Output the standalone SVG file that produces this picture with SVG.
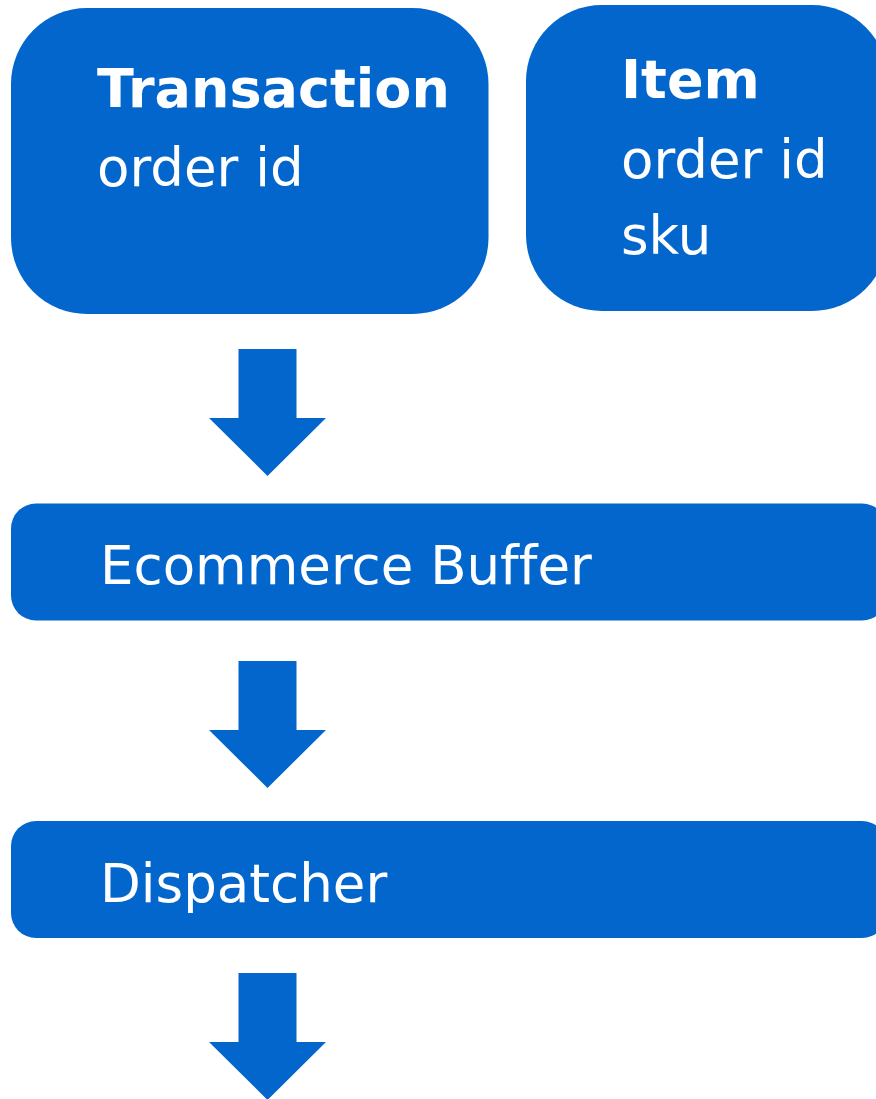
<svg xmlns="http://www.w3.org/2000/svg" width="876" height="1099" viewBox="0 0 876 1099">
<style>
.box{fill:#0366CC}
.t{font-family:"DejaVu Sans",sans-serif;font-size:53px;fill:#ffffff;font-variant-ligatures:none}
.b{font-weight:bold;font-size:54px}
.arrow{fill:#0366CC}
</style>
<defs>
<path id="arr" d="M238.5,0 H296.5 V69 H326 L267.5,127 L209,69 H238.5 Z"/>
</defs>
<rect width="876" height="1099" fill="#ffffff"/>
<g id="transaction">
<rect class="box" x="11" y="8" width="477.5" height="306" rx="76"/>
<text class="t b" x="97" y="107">Transaction</text>
<text class="t" x="97" y="186">order id</text>
</g>
<g id="item">
<rect class="box" x="526" y="5" width="362" height="306" rx="76"/>
<text class="t b" x="621" y="98">Item</text>
<text class="t" x="621" y="178">order id</text>
<text class="t" x="621" y="254">sku</text>
</g>
<g id="ecommerce-buffer">
<rect class="box" x="11" y="503.5" width="876" height="117" rx="25"/>
<text class="t" x="100" y="583.5">Ecommerce Buffer</text>
</g>
<g id="dispatcher">
<rect class="box" x="11" y="821" width="876" height="117" rx="25"/>
<text class="t" x="100" y="901.5">Dispatcher</text>
</g>
<g id="connectors">
<use class="arrow" href="#arr" y="349"/>
<use class="arrow" href="#arr" y="661"/>
<use class="arrow" href="#arr" y="973"/>
</g>
</svg>
